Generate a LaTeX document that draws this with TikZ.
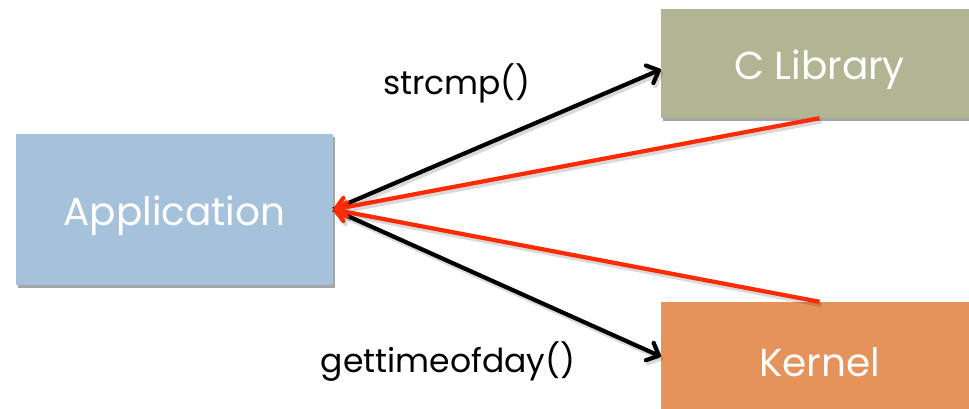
\documentclass[tikz,border=0pt]{standalone}
\usepackage{fontspec}
\setmainfont{Poppins}
\usetikzlibrary{arrows.meta,shadows}
\definecolor{appblue}{HTML}{A5C2DA}
\definecolor{libgreen}{HTML}{B1B593}
\definecolor{kernorange}{HTML}{E5935A}
\definecolor{retred}{HTML}{FF2A00}
\tikzset{
  box/.style={rectangle, minimum width=317pt, inner sep=0pt, text=white,
    font=\fontsize{39}{40}\selectfont,
    drop shadow={shadow xshift=2pt, shadow yshift=-3pt, opacity=0.35, fill=black}},
  tip/.style={-{Straight Barb[length=10pt,width=19pt,round]}},
  call/.style={line width=4.2pt, black, tip},
  ret/.style={line width=4.2pt, retred, tip},
  lshadow/.style={line width=4.5pt, black, opacity=0.15, tip},
  lbl/.style={font=\fontsize{33}{35}\selectfont, text=black, inner sep=0pt}
}
\newcommand{\lowtext}[1]{\raisebox{-6pt}[\height][\depth]{#1}}
\begin{document}
\begin{tikzpicture}[x=1pt,y=-1pt]
\useasboundingbox (0,0) rectangle (969,408);
\clip (0,0) rectangle (969,408);
\node[box, fill=appblue, minimum height=151pt] (app) at (174.5,209.5) {\lowtext{Application}};
\node[box, fill=libgreen, minimum height=109pt] (clib) at (819.5,63.5) {\lowtext{C Library}};
\node[box, fill=kernorange, minimum height=109pt] (kern) at (819.5,356.5) {\lowtext{Kernel}};
\begin{scope}[transform canvas={xshift=2pt,yshift=-3pt}]
\draw[lshadow] (app.east) -- ([yshift=-6pt]clib.west);
\draw[lshadow] (app.east) -- (kern.west);
\draw[lshadow] (clib.south) -- (app.east);
\draw[lshadow] (kern.north) -- (app.east);
\end{scope}
\draw[call] (app.east) -- ([yshift=-6pt]clib.west);
\draw[call] (app.east) -- (kern.west);
\draw[ret] (clib.south) -- (app.east);
\draw[ret] (kern.north) -- (app.east);
\node[lbl] (l1) at (457,83) {strcmp()};
\node[lbl] (l2) at (448,362) {gettimeofday()};
\end{tikzpicture}
\end{document}
